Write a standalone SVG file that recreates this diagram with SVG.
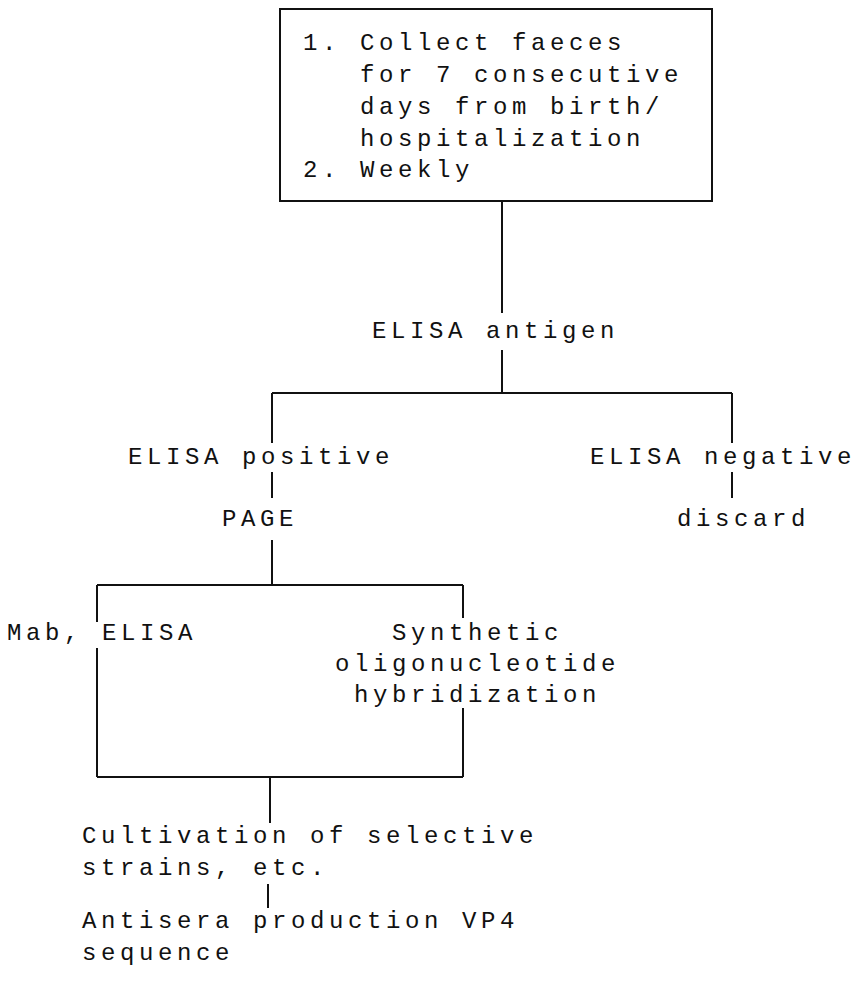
<svg xmlns="http://www.w3.org/2000/svg" width="857" height="981" viewBox="0 0 857 981">
<style>
  text { font-family: "Liberation Mono", "DejaVu Sans Mono", monospace; font-size: 24px; letter-spacing: 4.6px; fill: #111; }
  .ln { stroke: #111; stroke-width: 2; fill: none; }
  .bx { stroke: #111; stroke-width: 2; fill: none; }
</style>
<rect width="857" height="981" fill="#fff"/>
<g id="connectors">
  <path class="ln" d="M502 201 V313"/>
  <path class="ln" d="M502 350 V393"/>
  <path class="ln" d="M272 393 H732"/>
  <path class="ln" d="M272 393 V443"/>
  <path class="ln" d="M732 393 V443"/>
  <path class="ln" d="M272 472 V498"/>
  <path class="ln" d="M732 472 V498"/>
  <path class="ln" d="M272 540 V585"/>
  <path class="ln" d="M97 585 H463"/>
  <path class="ln" d="M97 585 V622"/>
  <path class="ln" d="M97 648 V777"/>
  <path class="ln" d="M463 585 V618"/>
  <path class="ln" d="M463 708 V777"/>
  <path class="ln" d="M97 777 H463"/>
  <path class="ln" d="M270 777 V823"/>
  <path class="ln" d="M268 884 V908"/>
</g>
<g id="node-collect">
  <rect class="bx" x="280" y="9" width="432" height="192"/>
  <text x="303" y="50">1. Collect faeces</text>
  <text x="360" y="82">for 7 consecutive</text>
  <text x="360" y="114">days from birth/</text>
  <text x="360" y="146">hospitalization</text>
  <text x="303" y="177">2. Weekly</text>
</g>
<g id="node-antigen"><text x="372" y="338">ELISA antigen</text></g>
<g id="node-positive"><text x="128" y="464">ELISA positive</text></g>
<g id="node-negative"><text x="590" y="464">ELISA negative</text></g>
<g id="node-page"><text x="222" y="526">PAGE</text></g>
<g id="node-discard"><text x="677" y="526">discard</text></g>
<g id="node-mab"><text x="7" y="640">Mab, ELISA</text></g>
<g id="node-synthetic">
  <text x="392" y="640">Synthetic</text>
  <text x="335" y="671">oligonucleotide</text>
  <text x="354" y="702">hybridization</text>
</g>
<g id="node-cultivation">
  <text x="82" y="843">Cultivation of selective</text>
  <text x="82" y="875">strains, etc.</text>
</g>
<g id="node-antisera">
  <text x="82" y="928">Antisera production VP4</text>
  <text x="82" y="960">sequence</text>
</g>
</svg>
